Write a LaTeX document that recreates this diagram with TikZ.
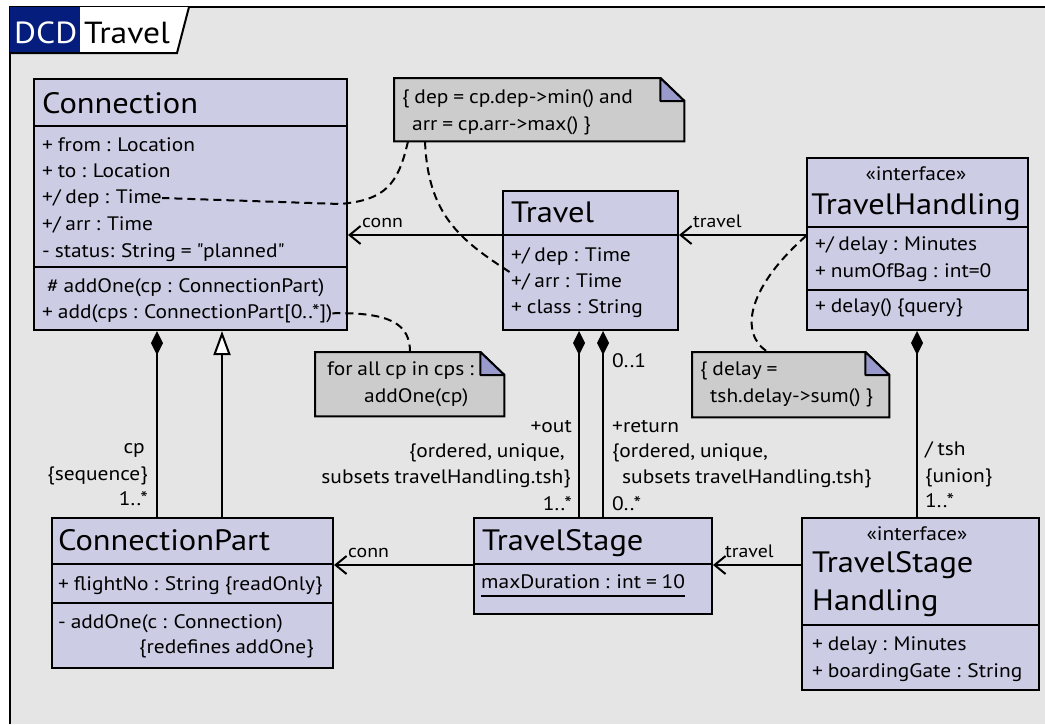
\documentclass[tikz,border=0pt]{standalone}
\usepackage{fontspec}
\setmainfont{PT Sans}[FakeStretch=1.1, WordSpace=0.85]
\usetikzlibrary{arrows.meta,calc}

\definecolor{framebg}{RGB}{229,229,229}
\definecolor{classfill}{RGB}{204,204,228}
\definecolor{notefill}{RGB}{204,204,204}
\definecolor{foldfill}{RGB}{153,153,204}
\definecolor{tabblue}{RGB}{5,30,125}

\newcommand\titlefont{\fontsize{29.5}{31}\selectfont}
\newcommand\itemfont{\fontsize{19.5}{22}\selectfont}
\newcommand\labelfont{\fontsize{18}{20}\selectfont}
\newcommand\tabfont{\fontsize{30.5}{32}\selectfont}

\begin{document}
\begin{tikzpicture}[x=1pt,y=-1pt,
  classbox/.style={draw=black, line width=2pt, fill=classfill, inner sep=0pt, anchor=north west},
  notebox/.style={inner sep=0pt, anchor=north west},
  ttl/.style={anchor=base west, inner sep=0pt, font=\titlefont},
  ttlc/.style={anchor=base, inner sep=0pt, font=\titlefont},
  item/.style={anchor=base west, inner sep=0pt, font=\itemfont},
  itemr/.style={anchor=base east, inner sep=0pt, font=\itemfont},
  stereo/.style={anchor=base, inner sep=0pt, font=\itemfont},
  lbl/.style={anchor=base west, inner sep=0pt, font=\labelfont},
  sepline/.style={line width=2pt},
  assoc/.style={line width=2pt, -{Straight Barb[length=11pt,width=18pt]}},
  compo/.style={line width=2pt, {Diamond[length=24pt,width=12pt]}-},
  gener/.style={line width=2pt, {Triangle[length=24pt,width=17pt,fill=white]}-},
  cdash/.style={line width=2pt, dash pattern=on 8pt off 5pt},
]
\useasboundingbox (0,0) rectangle (1045,724);

% frame
\fill[framebg] (10,7) rectangle (1045,724);
\draw[line width=2.5pt] (10,724) -- (10,7) -- (1045,7);

% frame tab
\fill[white] (10,7) -- (189,7) -- (177,53) -- (10,53) -- cycle;
\fill[tabblue] (10,7) rectangle (80,53);
\draw[line width=2pt] (10,53) -- (177,53) -- (189,7);
\node[anchor=base west, inner sep=0pt, font=\tabfont, text=white] (tabkind) at (14,43) {DCD};
\node[anchor=base west, inner sep=0pt, font=\tabfont] (tabname) at (84,43) {Travel};

% ---------- classes ----------
% Connection
\node[classbox, minimum width=313, minimum height=251] (conn) at (33,78) {};
\draw[sepline] ($(conn.north west)+(0,48)$) -- ($(conn.north east)+(0,48)$);
\draw[sepline] ($(conn.north west)+(0,189)$) -- ($(conn.north east)+(0,189)$);
\node[ttl] (conn-t) at (42,113) {Connection};
\node[item] (conn-a1) at (42,151) {+ from : Location};
\node[item] (conn-a2) at (42,177) {+ to : Location};
\node[item] (conn-a3) at (42,203) {+/ dep : Time};
\node[item] (conn-a4) at (42,230) {+/ arr : Time};
\node[item] (conn-a5) at (42,257) {- status: String = \textquotedbl planned\textquotedbl};
\node[item] (conn-o1) at (47,292) {\# addOne(cp : ConnectionPart)};
\node[item] (conn-o2) at (42,318) {+ add(cps : ConnectionPart[0..*])};

% Travel
\node[classbox, minimum width=175, minimum height=139] (travel) at (502,190) {};
\draw[sepline] ($(travel.north west)+(0,45)$) -- ($(travel.north east)+(0,45)$);
\node[ttl] (travel-t) at (511,222) {Travel};
\node[item] (travel-a1) at (511,261) {+/ dep : Time};
\node[item] (travel-a2) at (511,287) {+/ arr : Time};
\node[item] (travel-a3) at (511,313) {+ class : String};

% TravelHandling
\node[classbox, minimum width=221, minimum height=172] (th) at (806,157) {};
\draw[sepline] ($(th.north west)+(0,70)$) -- ($(th.north east)+(0,70)$);
\draw[sepline] ($(th.north west)+(0,133)$) -- ($(th.north east)+(0,133)$);
\node[stereo] (th-s) at (916,180) {«interface»};
\node[ttlc] (th-t) at (916,214) {TravelHandling};
\node[item] (th-a1) at (815,250) {+/ delay : Minutes};
\node[item] (th-a2) at (815,277) {+ numOfBag : int=0};
\node[item] (th-o1) at (815,312) {+ delay() \{query\}};

% ConnectionPart
\node[classbox, minimum width=281, minimum height=150] (cp) at (51,517) {};
\draw[sepline] ($(cp.north west)+(0,47)$) -- ($(cp.north east)+(0,47)$);
\draw[sepline] ($(cp.north west)+(0,86)$) -- ($(cp.north east)+(0,86)$);
\node[ttl] (cp-t) at (58,550) {ConnectionPart};
\node[item] (cp-a1) at (58,590) {+ flightNo : String \{readOnly\}};
\node[item] (cp-o1) at (58,628) {- addOne(c : Connection)};
\node[itemr] (cp-o2) at (314,653) {\{redefines addOne\}};

% TravelStage
\node[classbox, minimum width=238, minimum height=96] (ts) at (473,517) {};
\draw[sepline] ($(ts.north west)+(0,47)$) -- ($(ts.north east)+(0,47)$);
\node[ttl] (ts-t) at (482,550) {TravelStage};
\node[item] (ts-a1) at (481,588) {maxDuration : int = 10};
\draw[line width=1.3pt] ($(ts-a1.base west)+(0,8)$) -- ($(ts-a1.base east)+(0,8)$);

% TravelStageHandling
\node[classbox, minimum width=237, minimum height=172] (tsh) at (801,517) {};
\draw[sepline] ($(tsh.north west)+(0,108)$) -- ($(tsh.north east)+(0,108)$);
\node[stereo] (tsh-s) at (917,540) {«interface»};
\node[ttl] (tsh-t1) at (812,572) {TravelStage};
\node[ttl] (tsh-t2) at (812,610) {Handling};
\node[item] (tsh-a1) at (812,650) {+ delay : Minutes};
\node[item] (tsh-a2) at (812,677) {+ boardingGate : String};

% ---------- notes ----------
\node[notebox, minimum width=290, minimum height=63] (n1) at (394,78) {};
\node[notebox, minimum width=189, minimum height=64] (n2) at (315,352) {};
\node[notebox, minimum width=197, minimum height=65] (n3) at (692,352) {};
\foreach \n in {n1,n2,n3}{
  \filldraw[fill=notefill, draw=black, line width=2pt]
    (\n.north west) -- ($(\n.north east)+(-24,0)$) -- ($(\n.north east)+(0,23)$)
    -- (\n.south east) -- (\n.south west) -- cycle;
  \filldraw[fill=foldfill, draw=black, line width=2pt, line join=bevel]
    ($(\n.north east)+(-24,0)$) -- ($(\n.north east)+(-24,23)$) -- ($(\n.north east)+(0,23)$) -- cycle;
}
\node[item] (n1-l1) at (402,103) {\{ dep = cp.dep->min() and};
\node[item] (n1-l2) at (412,130) {arr = cp.arr->max() \}};
\node[item] (n2-l1) at (327,375) {for all cp in cps :};
\node[item] (n2-l2) at (364,402) {addOne(cp)};
\node[item] (n3-l1) at (700,375) {\{ delay =};
\node[item] (n3-l2) at (710,402) {tsh.delay->sum() \}};

% ---------- associations ----------
\coordinate (upper) at (0,235);
\coordinate (lower) at (0,565);
\draw[assoc] (th.west |- upper) -- (travel.east |- upper);
\draw[assoc] (travel.west |- upper) -- (conn.east |- upper);
\draw[assoc] (tsh.west |- lower) -- (ts.east |- lower);
\draw[assoc] (ts.west |- lower) -- (cp.east |- lower);
\node[lbl] (l-travel1) at (693,227) {travel};
\node[lbl] (l-conn1) at (362,227) {conn};
\node[lbl] (l-travel2) at (725,557) {travel};
\node[lbl] (l-conn2) at (348,557) {conn};

% composition and generalization
\coordinate (xcp) at (157,0);
\coordinate (xgen) at (222,0);
\coordinate (xout) at (579,0);
\coordinate (xret) at (603,0);
\coordinate (xtsh) at (917,0);
\draw[compo] (conn.south -| xcp) -- (cp.north -| xcp);
\draw[gener] (conn.south -| xgen) -- (cp.north -| xgen);
\draw[compo] (travel.south -| xout) -- (ts.north -| xout);
\draw[compo] (travel.south -| xret) -- (ts.north -| xret);
\draw[compo] (th.south -| xtsh) -- (tsh.north -| xtsh);

% association end labels
\node[itemr] (e-cp1) at (145,453) {cp};
\node[itemr] (e-cp2) at (148,480) {\{sequence\}};
\node[itemr] (e-cp3) at (148,505) {1..*};

\node[itemr] (e-out1) at (572,432) {+out};
\node[itemr] (e-out2) at (565,457) {\{ordered, unique,};
\node[itemr] (e-out3) at (571,483) {subsets travelHandling.tsh\}};
\node[itemr] (e-out4) at (572,510) {1..*};

\node[item] (e-ret0) at (612,367) {0..1};
\node[item] (e-ret1) at (612,432) {+return};
\node[item] (e-ret2) at (612,457) {\{ordered, unique,};
\node[item] (e-ret3) at (622,483) {subsets travelHandling.tsh\}};
\node[item] (e-ret4) at (612,510) {0..*};

\node[item] (e-tsh1) at (925,455) {/ tsh};
\node[item] (e-tsh2) at (925,482) {\{union\}};
\node[item] (e-tsh3) at (925,507) {1..*};

% ---------- constraint anchors ----------
\draw[cdash] ($(n1.south west)+(14,0)$) .. controls (398,185) and (385,200) .. (340,204) -- (conn-a3.east);
\draw[cdash] ($(n1.south west)+(31,0)$) .. controls (428,215) and (460,240) .. (travel-a2.north west);
\draw[cdash] (conn-o2.east) .. controls (392,312) and (410,325) .. ($(n2.north west)+(95,0)$);
\draw[cdash] (th.west |- th-a1.north) .. controls (745,290) and (740,335) .. ($(n3.north west)+(76,0)$);
\end{tikzpicture}
\end{document}
